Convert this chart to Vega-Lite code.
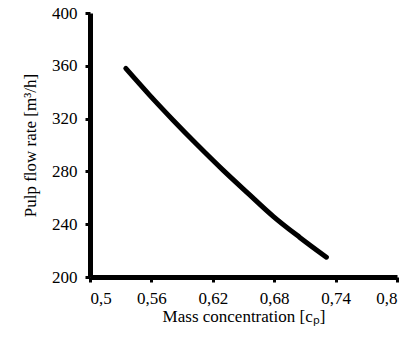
{
  "$schema": "https://vega.github.io/schema/vega-lite/v6.json",
  "width": 307,
  "height": 264,
  "autosize": "none",
  "padding": {"left": 90, "top": 13, "right": 23, "bottom": 65},
  "background": "white",
  "config": {
    "view": {"stroke": null},
    "font": "Liberation Serif",
    "axis": {
      "grid": false,
      "domainColor": "black",
      "domainWidth": 5,
      "tickColor": "black",
      "tickWidth": 3,
      "tickSize": 5,
      "labelFont": "Liberation Serif",
      "labelFontSize": 17,
      "labelColor": "black",
      "titleFont": "Liberation Serif",
      "titleFontSize": 17,
      "titleFontWeight": "normal",
      "titleColor": "black"
    }
  },
  "data": {
    "values": [
      {"c": 0.535, "q": 358},
      {"c": 0.558, "q": 338},
      {"c": 0.581, "q": 319},
      {"c": 0.605, "q": 300},
      {"c": 0.630, "q": 281},
      {"c": 0.655, "q": 263},
      {"c": 0.679, "q": 246},
      {"c": 0.705, "q": 230},
      {"c": 0.731, "q": 215}
    ]
  },
  "mark": {"type": "line", "color": "black", "strokeWidth": 5, "interpolate": "monotone", "strokeCap": "round"},
  "encoding": {
    "x": {
      "field": "c", "type": "quantitative",
      "scale": {"domain": [0.5, 0.8], "nice": false, "zero": false},
      "axis": {
        "values": [0.5, 0.56, 0.62, 0.68, 0.74, 0.8],
        "labelExpr": "replace(format(datum.value, '.2~f'), '.', ',')",
        "title": "Mass concentration [cₚ]",
        "labelPadding": 8,
        "titlePadding": 2
      }
    },
    "y": {
      "field": "q", "type": "quantitative",
      "scale": {"domain": [200, 400], "nice": false, "zero": false},
      "axis": {
        "values": [200, 240, 280, 320, 360, 400],
        "title": "Pulp flow rate [m³/h]",
        "labelPadding": 8,
        "titlePadding": 12
      }
    }
  }
}
